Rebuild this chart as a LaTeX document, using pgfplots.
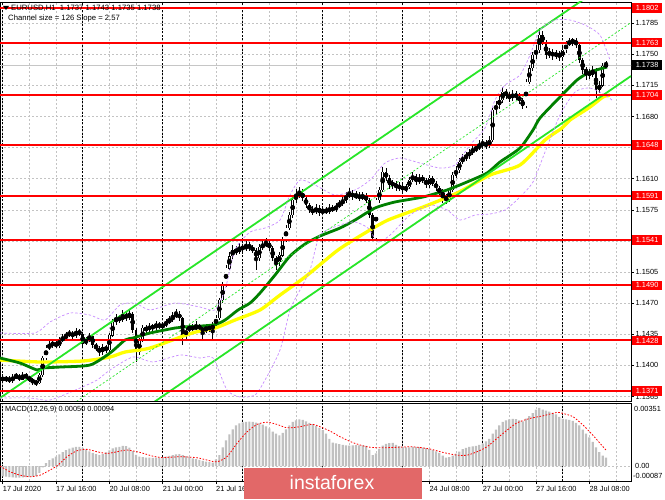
\documentclass[border=0pt]{standalone}
\usepackage{pgfplots}
\pgfplotsset{compat=1.18}
\usepackage{pgfplotstable}
\usepackage{fontspec}
\setmainfont{Liberation Sans}
\definecolor{mtgrid}{RGB}{195,195,195}
\definecolor{mtgreen}{RGB}{0,128,0}
\definecolor{mtlime}{RGB}{40,230,40}
\definecolor{mtyellow}{RGB}{255,255,0}
\definecolor{mtpurple}{RGB}{200,140,255}
\definecolor{mtred}{RGB}{255,0,0}
\definecolor{hist}{RGB}{192,192,192}
\definecolor{logo}{RGB}{226,104,104}
\newcommand\lab{\fontsize{7.4}{8.5}\selectfont}
\newcommand\ttl{\fontsize{7.7}{9}\selectfont}

\pgfplotstableread{
i O H L C
0 1.13858 1.13890 1.13810 1.13835
1 1.13835 1.13885 1.13815 1.13858
2 1.13858 1.13880 1.13800 1.13824
3 1.13824 1.13900 1.13805 1.13869
4 1.13869 1.13915 1.13850 1.13880
5 1.13880 1.13905 1.13825 1.13846
6 1.13846 1.13920 1.13830 1.13891
7 1.13891 1.13910 1.13845 1.13869
8 1.13869 1.13885 1.13815 1.13835
9 1.13835 1.13860 1.13780 1.13813
10 1.13813 1.13840 1.13770 1.13801
11 1.13801 1.13910 1.13790 1.13891
12 1.13891 1.14110 1.13875 1.14083
13 1.14083 1.14230 1.14060 1.14195
14 1.14195 1.14270 1.14170 1.14229
15 1.14229 1.14290 1.14200 1.14251
16 1.14251 1.14280 1.14190 1.14218
17 1.14218 1.14320 1.14200 1.14285
18 1.14285 1.14350 1.14260 1.14308
19 1.14308 1.14380 1.14290 1.14341
20 1.14341 1.14400 1.14320 1.14364
21 1.14364 1.14390 1.14300 1.14330
22 1.14330 1.14420 1.14310 1.14386
23 1.14386 1.14410 1.14330 1.14353
24 1.14353 1.14370 1.14220 1.14251
25 1.14251 1.14320 1.14230 1.14285
26 1.14285 1.14370 1.14260 1.14330
27 1.14330 1.14350 1.14200 1.14229
28 1.14229 1.14250 1.14160 1.14195
29 1.14195 1.14220 1.14110 1.14150
30 1.14150 1.14240 1.14120 1.14206
31 1.14206 1.14230 1.14140 1.14173
32 1.14173 1.14360 1.14150 1.14341
33 1.14341 1.14520 1.14320 1.14488
34 1.14488 1.14580 1.14460 1.14533
35 1.14533 1.14570 1.14480 1.14510
36 1.14510 1.14620 1.14490 1.14566
37 1.14566 1.14600 1.14500 1.14533
38 1.14533 1.14630 1.14510 1.14578
39 1.14578 1.14600 1.14370 1.14398
40 1.14398 1.14420 1.14040 1.14150
41 1.14150 1.14310 1.14120 1.14285
42 1.14285 1.14450 1.14260 1.14420
43 1.14420 1.14450 1.14370 1.14398
44 1.14398 1.14480 1.14370 1.14443
45 1.14443 1.14470 1.14390 1.14420
46 1.14420 1.14500 1.14400 1.14465
47 1.14465 1.14490 1.14410 1.14431
48 1.14431 1.14490 1.14410 1.14454
49 1.14454 1.14520 1.14430 1.14488
50 1.14488 1.14550 1.14470 1.14510
51 1.14510 1.14600 1.14490 1.14555
52 1.14555 1.14640 1.14530 1.14578
53 1.14578 1.14610 1.14500 1.14533
54 1.14533 1.14550 1.14229 1.14341
55 1.14341 1.14430 1.14300 1.14398
56 1.14398 1.14470 1.14370 1.14431
57 1.14431 1.14460 1.14380 1.14409
58 1.14409 1.14500 1.14380 1.14443
59 1.14443 1.14470 1.14390 1.14420
60 1.14420 1.14440 1.14290 1.14386
61 1.14386 1.14470 1.14360 1.14431
62 1.14431 1.14460 1.14380 1.14409
63 1.14409 1.14490 1.14280 1.14454
64 1.14454 1.14570 1.14430 1.14533
65 1.14533 1.14760 1.14510 1.14735
66 1.14735 1.14940 1.14700 1.14904
67 1.14904 1.15130 1.14880 1.15095
68 1.15095 1.15280 1.15070 1.15230
69 1.15230 1.15350 1.15200 1.15298
70 1.15298 1.15340 1.15240 1.15275
71 1.15275 1.15380 1.15250 1.15331
72 1.15331 1.15370 1.15280 1.15309
73 1.15309 1.15400 1.15290 1.15354
74 1.15354 1.15390 1.15290 1.15320
75 1.15320 1.15360 1.15260 1.15298
76 1.15298 1.15320 1.15073 1.15208
77 1.15208 1.15370 1.15180 1.15331
78 1.15331 1.15400 1.15300 1.15354
79 1.15354 1.15430 1.15330 1.15376
80 1.15376 1.15400 1.15290 1.15320
81 1.15320 1.15340 1.15170 1.15208
82 1.15208 1.15230 1.15073 1.15163
83 1.15163 1.15270 1.15120 1.15241
84 1.15241 1.15440 1.15220 1.15410
85 1.15410 1.15580 1.15390 1.15545
86 1.15545 1.15730 1.15520 1.15691
87 1.15691 1.15900 1.15660 1.15860
88 1.15860 1.15990 1.15830 1.15916
89 1.15916 1.16010 1.15880 1.15939
90 1.15939 1.15980 1.15850 1.15883
91 1.15883 1.15910 1.15770 1.15804
92 1.15804 1.15830 1.15710 1.15748
93 1.15748 1.15790 1.15690 1.15725
94 1.15725 1.15810 1.15700 1.15770
95 1.15770 1.15800 1.15680 1.15714
96 1.15714 1.15790 1.15690 1.15748
97 1.15748 1.15780 1.15700 1.15725
98 1.15725 1.15810 1.15700 1.15770
99 1.15770 1.15800 1.15720 1.15748
100 1.15748 1.15830 1.15720 1.15793
101 1.15793 1.15860 1.15770 1.15815
102 1.15815 1.15900 1.15790 1.15860
103 1.15860 1.15950 1.15830 1.15905
104 1.15905 1.15990 1.15880 1.15939
105 1.15939 1.15970 1.15860 1.15894
106 1.15894 1.15960 1.15870 1.15916
107 1.15916 1.15950 1.15850 1.15883
108 1.15883 1.15950 1.15860 1.15905
109 1.15905 1.15940 1.15830 1.15860
110 1.15860 1.15880 1.15660 1.15691
111 1.15691 1.15710 1.15399 1.15433
112 1.15433 1.15880 1.15410 1.15860
113 1.15860 1.16010 1.15830 1.15973
114 1.15973 1.16231 1.15950 1.16175
115 1.16175 1.16220 1.16070 1.16108
116 1.16108 1.16140 1.15990 1.16029
117 1.16029 1.16090 1.15990 1.16051
118 1.16051 1.16080 1.15960 1.15995
119 1.15995 1.16060 1.15960 1.16018
120 1.16018 1.16050 1.15940 1.15973
121 1.15973 1.16040 1.15950 1.16006
122 1.16006 1.16120 1.15980 1.16085
123 1.16085 1.16170 1.16060 1.16130
124 1.16130 1.16150 1.16030 1.16063
125 1.16063 1.16150 1.16040 1.16108
126 1.16108 1.16140 1.16050 1.16085
127 1.16085 1.16110 1.16000 1.16029
128 1.16029 1.16140 1.16000 1.16108
129 1.16108 1.16130 1.16020 1.16051
130 1.16051 1.16080 1.15960 1.15995
131 1.15995 1.16020 1.15910 1.15950
132 1.15950 1.15980 1.15826 1.15905
133 1.15905 1.15930 1.15815 1.15860
134 1.15860 1.16000 1.15840 1.15973
135 1.15973 1.16170 1.15950 1.16141
136 1.16141 1.16240 1.16110 1.16198
137 1.16198 1.16330 1.16170 1.16288
138 1.16288 1.16380 1.16260 1.16333
139 1.16333 1.16400 1.16300 1.16355
140 1.16355 1.16440 1.16320 1.16400
141 1.16400 1.16470 1.16370 1.16423
142 1.16423 1.16490 1.16400 1.16445
143 1.16445 1.16530 1.16420 1.16479
144 1.16479 1.16550 1.16450 1.16501
145 1.16501 1.16540 1.16430 1.16468
146 1.16468 1.16580 1.16440 1.16535
147 1.16535 1.16900 1.16510 1.16873
148 1.16873 1.16980 1.16830 1.16929
149 1.16929 1.17030 1.16890 1.16985
150 1.16985 1.17130 1.16950 1.17075
151 1.17075 1.17110 1.17000 1.17041
152 1.17041 1.17080 1.16960 1.17008
153 1.17008 1.17100 1.16970 1.17053
154 1.17053 1.17090 1.16980 1.17019
155 1.17019 1.17060 1.16940 1.16985
156 1.16985 1.17010 1.16880 1.16918
157 1.16918 1.17220 1.16890 1.17188
158 1.17188 1.17380 1.17160 1.17345
159 1.17345 1.17530 1.17310 1.17491
160 1.17491 1.17600 1.17450 1.17548
161 1.17548 1.17795 1.17520 1.17716
162 1.17716 1.17760 1.17600 1.17638
163 1.17638 1.17660 1.17450 1.17491
164 1.17491 1.17570 1.17460 1.17525
165 1.17525 1.17560 1.17440 1.17480
166 1.17480 1.17550 1.17450 1.17514
167 1.17514 1.17540 1.17430 1.17469
168 1.17469 1.17580 1.17440 1.17548
169 1.17548 1.17650 1.17520 1.17615
170 1.17615 1.17680 1.17590 1.17638
171 1.17638 1.17683 1.17600 1.17660
172 1.17660 1.17680 1.17570 1.17604
173 1.17604 1.17620 1.17400 1.17435
174 1.17435 1.17460 1.17280 1.17323
175 1.17323 1.17360 1.17210 1.17300
176 1.17300 1.17340 1.17220 1.17266
177 1.17266 1.17370 1.17240 1.17323
178 1.17323 1.17340 1.17008 1.17098
179 1.17098 1.17200 1.17060 1.17154
180 1.17154 1.17400 1.17130 1.17370
181 1.17370 1.17430 1.17350 1.17380
}\candles

\pgfplotstableread{
i h
0 -0.00060
1 -0.00062
2 -0.00064
3 -0.00066
4 -0.00067
5 -0.00067
6 -0.00066
7 -0.00065
8 -0.00064
9 -0.00062
10 -0.00058
11 -0.00040
12 -0.00008
13 0.00018
14 0.00035
15 0.00046
16 0.00056
17 0.00068
18 0.00082
19 0.00094
20 0.00103
21 0.00108
22 0.00112
23 0.00112
24 0.00106
25 0.00096
26 0.00086
27 0.00077
28 0.00070
29 0.00064
30 0.00070
31 0.00080
32 0.00092
33 0.00104
34 0.00110
35 0.00113
36 0.00118
37 0.00117
38 0.00108
39 0.00088
40 0.00066
41 0.00056
42 0.00052
43 0.00050
44 0.00050
45 0.00048
46 0.00049
47 0.00050
48 0.00052
49 0.00055
50 0.00060
51 0.00064
52 0.00068
53 0.00070
54 0.00064
55 0.00059
56 0.00052
57 0.00046
58 0.00041
59 0.00036
60 0.00031
61 0.00027
62 0.00023
63 0.00020
64 0.00040
65 0.00065
66 0.00110
67 0.00150
68 0.00185
69 0.00215
70 0.00238
71 0.00250
72 0.00256
73 0.00259
74 0.00260
75 0.00259
76 0.00254
77 0.00250
78 0.00242
79 0.00233
80 0.00220
81 0.00202
82 0.00190
83 0.00180
84 0.00195
85 0.00215
86 0.00238
87 0.00258
88 0.00268
89 0.00274
90 0.00270
91 0.00262
92 0.00253
93 0.00245
94 0.00235
95 0.00224
96 0.00210
97 0.00190
98 0.00160
99 0.00138
100 0.00133
101 0.00128
102 0.00124
103 0.00121
104 0.00120
105 0.00121
106 0.00123
107 0.00122
108 0.00121
109 0.00118
110 0.00095
111 0.00064
112 0.00075
113 0.00100
114 0.00120
115 0.00130
116 0.00135
117 0.00136
118 0.00124
119 0.00117
120 0.00112
121 0.00110
122 0.00110
123 0.00112
124 0.00113
125 0.00111
126 0.00108
127 0.00105
128 0.00100
129 0.00094
130 0.00086
131 0.00077
132 0.00062
133 0.00049
134 0.00053
135 0.00062
136 0.00073
137 0.00085
138 0.00099
139 0.00106
140 0.00112
141 0.00116
142 0.00119
143 0.00124
144 0.00132
145 0.00145
146 0.00160
147 0.00190
148 0.00214
149 0.00238
150 0.00258
151 0.00268
152 0.00274
153 0.00276
154 0.00275
155 0.00268
156 0.00261
157 0.00278
158 0.00293
159 0.00310
160 0.00330
161 0.00340
162 0.00330
163 0.00324
164 0.00319
165 0.00312
166 0.00303
167 0.00288
168 0.00276
169 0.00273
170 0.00270
171 0.00264
172 0.00253
173 0.00238
174 0.00213
175 0.00190
176 0.00168
177 0.00142
178 0.00110
179 0.00082
180 0.00062
181 0.00050
}\macd

\pgfplotsset{
  mtx/.style={
    scale only axis, width=631pt,
    xmin=-0.81, xmax=188.5,
    axis line style={black, line width=0.6pt},
    xtick={0,16,...,176}, minor xtick={8,24,...,184},
    grid=both,
    major grid style={mtgrid, dash pattern=on 2pt off 2pt, line width=0.5pt},
    minor grid style={mtgrid, dash pattern=on 2pt off 2pt, line width=0.5pt},
    minor tick length=0pt,
    extra x ticks={0,24,48,72,96,120,144,168},
    extra x tick labels={},
    extra x tick style={major tick length=0pt, tick label style={text opacity=0},
      major grid style={black, dash pattern=on 2pt off 1.5pt, line width=0.6pt}},
  },
  candle/.style={only marks, mark=none, forget plot,
    error bars/.cd, y dir=both, y explicit, error mark=none, error bar style={#1}},
}

\begin{document}
\begin{tikzpicture}
\fill[white] (0pt,0pt) rectangle (665pt,499pt);
\path[use as bounding box] (0pt,0pt) rectangle (665pt,499pt);

% ---------------- main price panel ----------------
\begin{axis}[mtx, at={(0pt,98pt)}, anchor=south west, height=399pt,
  ymin=1.13599, ymax=1.18088,
  xticklabels={}, xtick style={draw=none},
  ytick={1.1365,1.1400,1.1435,1.1470,1.1505,1.1540,1.1575,1.1610,1.1645,1.1680,1.1715,1.1750,1.1785},
  ytick pos=right, yticklabel pos=right, tick align=outside, major tick length=3pt,
  ytick style={black, line width=0.5pt},
  scaled y ticks=false,
  yticklabel style={font=\lab, inner xsep=1.5pt,
    /pgf/number format/fixed, /pgf/number format/fixed zerofill,
    /pgf/number format/precision=4, /pgf/number format/assume math mode=true},
]
% current price line
\addplot[gray!45, line width=0.6pt, forget plot] coordinates {(-1,1.1738) (190,1.1738)};
% candles: wicks, bodies, white interiors of rising candles
\addplot[candle={draw=black, line width=0.8pt}]
  table[x=i, y expr=(\thisrow{H}+\thisrow{L})/2, y error expr={(\thisrow{H}-\thisrow{L})/2}] {\candles};
\addplot[candle={draw=black, line width=2.7pt}]
  table[x=i, y expr=(\thisrow{O}+\thisrow{C})/2, y error expr={abs(\thisrow{O}-\thisrow{C})/2+0.00004}] {\candles};
\addplot[candle={draw=white, line width=1.2pt}]
  table[x=i, y expr=(\thisrow{O}+\thisrow{C})/2, y error expr={max((\thisrow{C}-\thisrow{O})/2-0.00004,0)}] {\candles};
% yellow moving average
\addplot[mtyellow, line width=3.3pt, smooth, tension=0.4] coordinates {
(-0.81,1.14060) (11.2,1.14038) (24.1,1.14049) (32.2,1.14094) (36.7,1.14150) (44.2,1.14195)
(56.8,1.14364) (63.7,1.14420) (69.7,1.14510) (77.2,1.14623) (83.2,1.14791) (90.7,1.14994)
(100.6,1.15298) (108.7,1.15489) (115.6,1.15635) (126.1,1.15781) (136.3,1.15939) (146.2,1.16141)
(155.2,1.16254) (162.7,1.16535) (167.8,1.16670) (170.2,1.16760) (176.2,1.16906) (180.1,1.17019) (182.2,1.17041)};
% dark green moving average
\addplot[mtgreen, line width=2.8pt, smooth, tension=0.4] coordinates {
(-0.81,1.14083) (5.2,1.14026) (10.3,1.13948) (12.1,1.13970) (17.2,1.13981) (26.2,1.14004)
(32.2,1.14139) (36.7,1.14285) (39.1,1.14308) (44.2,1.14364) (51.7,1.14420) (54.1,1.14431)
(63.1,1.14454) (66.7,1.14510) (70.6,1.14623) (74.2,1.14701) (77.2,1.14814) (81.7,1.15016)
(86.2,1.15230) (90.7,1.15365) (95.2,1.15455) (101.2,1.15545) (105.7,1.15635) (111.7,1.15770)
(117.7,1.15838) (126.1,1.15894) (133.3,1.15973) (139.3,1.16063) (145.3,1.16164) (149.2,1.16288)
(155.2,1.16445) (159.1,1.16648) (161.2,1.16783) (167.2,1.17019) (172.3,1.17210) (176.2,1.17300) (181.3,1.17356)};
% regression channel
\addplot[mtlime, line width=1.8pt] coordinates {(-0.81,1.136325) (188.5,1.184813)};
\addplot[mtlime, line width=1.8pt] coordinates {(29.2,1.13171) (46.3,1.13610) (188.5,1.17255)};
\addplot[mtlime, line width=0.7pt, dash pattern=on 2pt off 2pt] coordinates {(14.2,1.13391) (23.2,1.136213) (188.5,1.178569)};
% purple bands
\addplot[mtpurple, line width=0.7pt, dash pattern=on 2.5pt off 2pt, smooth, tension=0.4] coordinates {
(-0.81,1.14364) (9.7,1.14364) (14.2,1.14488) (20.2,1.14589) (26.2,1.14566) (30.7,1.14510)
(35.2,1.14679) (39.7,1.14701) (44.2,1.14623) (51.7,1.14701) (59.2,1.14656) (63.7,1.14623)
(66.7,1.14848) (69.7,1.15298) (74.2,1.15500) (78.7,1.15545) (83.2,1.15635) (86.2,1.15916)
(89.2,1.16085) (93.7,1.16029) (99.7,1.15916) (105.7,1.15973) (110.2,1.16085) (114.7,1.16276)
(119.2,1.16333) (125.2,1.16276) (131.2,1.16220) (135.7,1.16254) (140.2,1.16479) (144.7,1.16670)
(147.7,1.16985) (150.7,1.17154) (155.2,1.17266) (158.2,1.17491) (161.2,1.17773) (165.7,1.17885)
(170.2,1.17885) (174.7,1.17829) (179.2,1.17716) (182.2,1.17435)};
\addplot[mtpurple, line width=0.7pt, dash pattern=on 2.5pt off 2pt, smooth, tension=0.4] coordinates {
(-0.81,1.13633) (8.2,1.13633) (14.2,1.13610) (23.2,1.13745) (28.3,1.13835) (32.2,1.13948)
(39.1,1.14094) (45.1,1.14038) (53.2,1.14116) (59.2,1.14083) (63.1,1.14083) (67.3,1.13723)
(71.2,1.13644) (75.7,1.13666) (78.7,1.13835) (83.2,1.14173) (86.2,1.14623) (89.2,1.14848)
(92.2,1.15073) (95.2,1.15466) (101.2,1.15579) (105.7,1.15613) (109.6,1.15545) (112.6,1.15388)
(116.2,1.15466) (122.2,1.15691) (128.2,1.15804) (133.3,1.15748) (137.2,1.15635) (141.7,1.15691)
(146.2,1.15703) (150.7,1.15748) (155.2,1.15894) (159.1,1.16063) (162.7,1.16400) (167.2,1.16816)
(171.7,1.17075) (176.2,1.17120) (180.7,1.17041) (182.8,1.16985)};
% support / resistance levels
\addplot[mtred, line width=2pt] coordinates {(-1,1.1802) (190,1.1802)};
\addplot[mtred, line width=2pt] coordinates {(-1,1.1763) (190,1.1763)};
\addplot[mtred, line width=2pt] coordinates {(-1,1.1704) (190,1.1704)};
\addplot[mtred, line width=2pt] coordinates {(-1,1.1648) (190,1.1648)};
\addplot[mtred, line width=2pt] coordinates {(-1,1.1591) (190,1.1591)};
\addplot[mtred, line width=2pt] coordinates {(-1,1.1541) (190,1.1541)};
\addplot[mtred, line width=2pt] coordinates {(-1,1.1490) (190,1.1490)};
\addplot[mtred, line width=2pt] coordinates {(-1,1.1428) (190,1.1428)};
\addplot[mtred, line width=2pt] coordinates {(-1,1.1371) (190,1.1371)};
\coordinate (b1) at (axis cs:188.5,1.1802);
\coordinate (b2) at (axis cs:188.5,1.1763);
\coordinate (b3) at (axis cs:188.5,1.1704);
\coordinate (b4) at (axis cs:188.5,1.1648);
\coordinate (b5) at (axis cs:188.5,1.1591);
\coordinate (b6) at (axis cs:188.5,1.1541);
\coordinate (b7) at (axis cs:188.5,1.1490);
\coordinate (b8) at (axis cs:188.5,1.1428);
\coordinate (b9) at (axis cs:188.5,1.1371);
\coordinate (bc) at (axis cs:188.5,1.1738);
\end{axis}

% ---------------- MACD panel ----------------
\begin{axis}[mtx, at={(0pt,18pt)}, anchor=south west, height=78pt,
  ymin=-0.00087, ymax=0.00369,
  xticklabels={17 Jul 2020,17 Jul 16:00,20 Jul 08:00,21 Jul 00:00,21 Jul 16:00,22 Jul 08:00,23 Jul 00:00,23 Jul 16:00,24 Jul 08:00,27 Jul 00:00,27 Jul 16:00,28 Jul 08:00},
  xticklabel style={font=\lab, anchor=north west, xshift=-1.5pt, inner sep=1.5pt},
  xtick pos=bottom, tick align=outside, major tick length=3pt,
  xtick style={black, line width=0.5pt},
  scaled y ticks=false,
  ytick={0}, yticklabels={}, ytick style={draw=none},
]
\addplot[ybar, bar width=2.2pt, bar shift=0pt, fill=hist, draw=none] table[x=i, y=h] {\macd};
\addplot[mtred, line width=0.8pt, dash pattern=on 1.6pt off 1.6pt, smooth, tension=0.4] coordinates {
(-0.8,0.00000) (2.2,-0.00033) (5.2,-0.00053) (8.2,-0.00062) (11.2,-0.00053) (14.2,-0.00023)
(16.6,0.00006) (19.3,0.00055) (22.3,0.00090) (25.3,0.00098) (28.3,0.00084) (31.3,0.00074)
(34.3,0.00084) (37.3,0.00094) (41.2,0.00080) (45.1,0.00058) (48.1,0.00050) (53.2,0.00055)
(58.3,0.00049) (62.2,0.00031) (64.3,0.00025) (67.3,0.00055) (70.3,0.00133) (73.3,0.00200)
(76.3,0.00244) (79.3,0.00257) (82.3,0.00244) (85.3,0.00224) (89.2,0.00230) (93.1,0.00244)
(98.2,0.00205) (101.2,0.00172) (105.1,0.00137) (109.3,0.00113) (113.2,0.00107) (118.3,0.00110)
(123.1,0.00113) (128.2,0.00100) (132.1,0.00080) (136.3,0.00064) (139.3,0.00064) (142.3,0.00084)
(145.3,0.00113) (148.3,0.00162) (151.3,0.00210) (154.3,0.00253) (158.2,0.00279) (162.1,0.00294)
(166.3,0.00314) (168.1,0.00308) (171.1,0.00289) (174.1,0.00240) (177.1,0.00180) (179.8,0.00120) (181,0.00094)};
\end{axis}

% ---------------- right-hand labels ----------------
\tikzset{rbox/.style={fill=mtred, text=white, font=\lab, inner xsep=3.6pt, inner ysep=0pt, minimum height=9.5pt, anchor=west}}
\node[rbox] at ([xshift=1pt]b1) {1.1802};
\node[rbox] at ([xshift=1pt]b2) {1.1763};
\node[rbox] at ([xshift=1pt]b3) {1.1704};
\node[rbox] at ([xshift=1pt]b4) {1.1648};
\node[rbox] at ([xshift=1pt]b5) {1.1591};
\node[rbox] at ([xshift=1pt]b6) {1.1541};
\node[rbox] at ([xshift=1pt]b7) {1.1490};
\node[rbox] at ([xshift=1pt]b8) {1.1428};
\node[rbox] at ([xshift=1pt]b9) {1.1371};
\node[rbox, fill=black] at ([xshift=1pt]bc) {1.1738};

\node[font=\lab, anchor=west, inner sep=0pt] at (634pt,90pt) {0.00351};
\node[font=\lab, anchor=west, inner sep=0pt] at (635pt,33pt) {0.00};
\node[font=\lab, anchor=west, inner sep=0pt] at (633pt,23pt) {-0.00087};

% ---------------- texts at top-left ----------------
\fill[black] (3pt,493pt) -- (9pt,493pt) -- (6pt,489pt) -- cycle;
\node[font=\ttl, anchor=west, inner sep=0pt] at (11pt,491pt) {EURUSD,H1\ \ 1.1737 1.1743 1.1735 1.1738};
\node[font=\ttl, anchor=west, inner sep=0pt] at (8pt,480pt) {Channel size = 126 Slope = 2.57};
\node[font=\lab, anchor=west, inner sep=0pt] at (5pt,89pt) {MACD(12,26,9) 0.00050 0.00094};

% ---------------- watermark ----------------
\fill[logo] (244pt,0pt) rectangle (422pt,31pt);
\node[font=\fontsize{19.5}{22}\selectfont, text=white, anchor=base, inner sep=0pt] at (332pt,10pt) {instaforex};
\end{tikzpicture}
\end{document}
